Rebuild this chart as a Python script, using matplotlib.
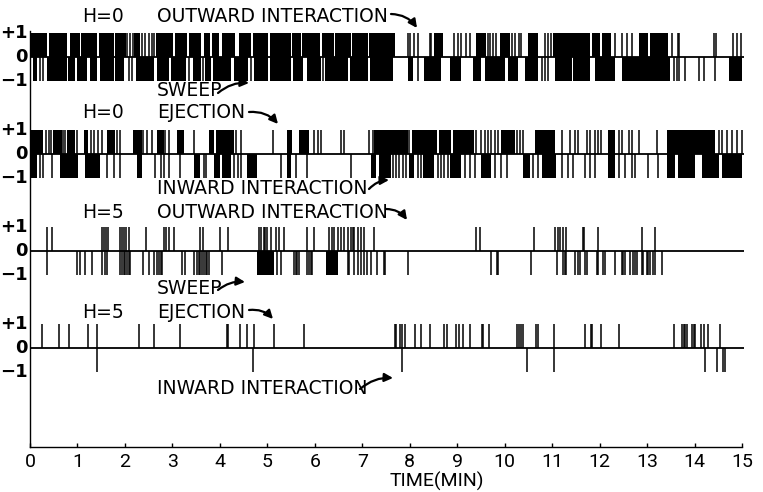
import matplotlib
matplotlib.use("Agg")
import matplotlib.pyplot as plt

# ---------------- data (time in minutes) ----------------
T1_UP_BLOCKS = [(0.0,0.36),(0.40,0.78),(0.84,1.05),(1.08,1.42),(1.46,1.77),(1.80,2.02),(2.20,2.32),
                (2.66,3.01),(3.05,3.31),(3.34,3.61),(3.66,3.80),(3.83,3.99),(4.04,4.32),(4.40,4.65),
                (4.70,5.02),(5.06,5.50),(5.52,5.71),(5.73,6.12),(6.15,6.40),(6.43,6.77),(6.79,7.12),
                (7.14,7.68),(8.52,8.70),(9.40,9.61),(9.90,10.11),(10.49,10.70),(11.02,11.80),
                (11.85,12.01),(12.06,12.25),(12.82,13.03),(13.06,13.45)]
T1_UP_LINES = [2.04,2.11,2.18,2.36,2.43,2.50,2.57,2.62,7.96,8.01,8.10,8.17,8.42,8.45,8.94,9.02,9.09,
               9.19,9.26,9.65,9.70,9.75,9.82,10.16,10.21,10.30,10.35,10.85,10.92,10.97,12.32,12.48,
               12.57,12.68,13.52,13.65,13.68,14.40,14.45,14.82,14.89,14.98]
T1_DN_BLOCKS = [(0.07,0.14),(0.35,0.77),(0.81,0.95),(0.99,1.21),(1.26,1.42),(1.47,1.76),(1.80,1.97),
                (2.24,2.61),(2.67,2.93),(2.98,3.28),(3.44,3.60),(3.69,3.81),(3.86,4.24),(4.29,4.59),
                (4.71,5.01),(5.06,5.50),(5.55,5.75),(5.83,6.14),(6.22,6.70),(6.75,7.12),(7.17,7.64),
                (7.96,8.06),(8.31,8.66),(8.84,9.09),(9.33,9.51),(9.58,10.00),(10.07,10.28),
                (10.42,10.70),(11.06,11.41),(11.44,11.80),(11.90,12.32),(12.47,13.49),(14.72,15.0)]
T1_DN_LINES = [0.21,0.28,2.08,2.15,3.35,3.64,4.65,6.18,8.17,10.78,10.85,10.92,13.56,13.63,13.68,
               13.80,14.09,14.19,14.44]

T2_UP_BLOCKS = [(0.03,0.27),(0.49,0.67),(0.77,0.95),(1.13,1.23),(1.62,1.80),(2.18,2.36),(2.68,2.82),
                (3.10,3.24),(3.77,3.87),(3.91,4.30),(5.42,5.53),(5.67,5.88),(7.25,7.96),(8.04,8.58),
                (8.61,8.86),(8.91,9.35),(9.92,10.21),(10.63,11.06),(12.18,12.32),(13.42,14.44)]
T2_UP_LINES = [0.34,0.39,0.44,0.70,0.74,0.99,1.28,1.34,1.44,1.51,1.83,1.90,2.39,2.46,2.57,2.85,2.92,
               3.45,4.33,4.44,5.11,5.99,6.06,6.13,6.55,6.62,7.15,7.22,7.99,9.40,9.51,9.58,9.65,9.72,
               9.79,9.86,10.25,10.32,10.39,11.20,11.37,11.48,11.55,11.73,11.80,11.90,11.97,12.04,
               12.40,12.47,12.61,12.68,12.82,13.21,14.51,14.58,14.68,14.79,14.90,15.0]
T2_DN_BLOCKS = [(0.03,0.15),(0.63,1.02),(1.16,1.48),(2.25,2.36),(3.45,3.59),(3.87,4.01),(4.05,4.23),
                (4.58,4.79),(5.42,5.49),(7.18,7.29),(7.36,7.60),(7.99,8.10),(8.28,8.52),(8.84,9.09),
                (9.51,9.72),(10.39,10.53),(10.78,11.09),(12.18,12.32),(13.42,13.59),(13.66,14.02),
                (14.16,14.51),(14.58,15.0)]
T2_DN_LINES = [0.21,0.27,0.46,1.62,1.76,1.90,2.64,2.75,2.82,2.92,3.17,3.66,3.70,4.30,4.38,4.45,5.28,
               5.60,5.84,6.76,7.43,7.50,7.57,7.64,7.71,7.78,7.85,7.92,8.17,8.24,8.59,8.66,8.73,8.80,
               9.16,9.26,9.37,9.79,9.93,10.04,10.60,10.70,11.20,11.34,11.44,11.69,11.80,11.90,12.40,
               12.54,12.68,12.75,13.03,13.24]

T3_UP_BLOCKS = []
T3_UP_LINES = [0.35,0.46,1.51,1.55,1.61,1.65,1.90,1.94,1.97,2.03,2.08,2.45,2.82,2.87,2.92,3.03,3.59,
               3.65,4.01,4.18,4.82,4.86,4.93,4.96,5.00,5.08,5.18,5.25,5.35,5.84,5.99,6.30,6.37,6.41,
               6.48,6.55,6.62,6.69,6.76,6.80,6.83,6.90,6.97,7.04,7.25,9.40,9.49,10.61,11.07,11.13,
               11.16,11.23,11.30,11.64,11.67,11.96,12.89,13.17]
T3_DN_BLOCKS = [(4.79,5.14),(6.23,6.48)]
T3_DN_LINES = [0.35,0.99,1.06,1.16,1.30,1.51,1.58,1.62,1.90,1.94,1.97,2.01,2.04,2.08,2.11,2.39,2.50,
               2.61,2.68,2.71,2.75,2.78,3.20,3.27,3.45,3.52,3.56,3.59,3.63,3.66,3.70,3.73,3.77,4.05,
               5.21,5.28,5.56,5.60,5.63,5.67,5.84,5.88,5.92,5.95,6.69,6.73,6.83,6.90,6.97,7.04,7.11,
               7.18,7.32,7.46,7.47,7.96,9.72,9.83,9.87,10.55,11.11,11.23,11.27,11.30,11.48,11.55,
               11.59,11.69,11.73,11.94,11.97,12.08,12.11,12.32,12.47,12.50,12.54,12.64,12.71,12.75,
               12.78,12.89,12.92,12.99,13.03,13.06,13.13,13.17,13.31]

T4_UP_BLOCKS = []
T4_UP_LINES = [0.25,0.61,0.82,1.23,1.41,2.29,2.62,3.17,4.14,4.18,4.42,4.58,4.72,5.13,5.77,7.69,7.71,
               7.80,7.83,7.90,8.11,8.23,8.42,8.72,8.79,8.98,9.03,9.12,9.26,9.52,9.54,9.68,10.27,10.30,
               10.35,10.39,10.67,10.71,11.04,11.69,11.82,11.85,12.03,12.41,13.56,13.73,13.77,13.80,
               13.84,13.94,13.98,14.02,14.14,14.19,14.28,14.54]
T4_DN_BLOCKS = []
T4_DN_LINES = [1.41,4.70,7.83,10.48,11.04,14.21,14.47,14.61,14.65]

TRACES = [
    (T1_UP_BLOCKS, T1_UP_LINES, T1_DN_BLOCKS, T1_DN_LINES),
    (T2_UP_BLOCKS, T2_UP_LINES, T2_DN_BLOCKS, T2_DN_LINES),
    (T3_UP_BLOCKS, T3_UP_LINES, T3_DN_BLOCKS, T3_DN_LINES),
    (T4_UP_BLOCKS, T4_UP_LINES, T4_DN_BLOCKS, T4_DN_LINES),
]
X_TICKS = list(range(0, 16))
X_LABEL = "TIME(MIN)"
LEVEL_LABELS = ["+1", "0", "\u22121"]

# ---------------- layout ----------------
W, H = 763, 492
BASES = [57, 154, 251, 348]     # baseline pixel rows of each trace
AMP = 24                         # pixel height of the +/-1 level
AX_LEFT, AX_RIGHT, AX_BOTTOM = 30, 742, 447
THIN_FONT = ["Roboto", "DejaVu Sans"]

fig = plt.figure(figsize=(W / 100, H / 100), dpi=100)
fig.patch.set_facecolor("white")
ax = fig.add_axes([AX_LEFT / W, (H - AX_BOTTOM) / H, (AX_RIGHT - AX_LEFT) / W, AX_BOTTOM / H])
ax.set_xlim(0, 15)
ax.set_ylim(AX_BOTTOM, 0)
ax.set_facecolor("none")

for base, (ub, ul, db, dl) in zip(BASES, TRACES):
    ax.plot([0, 15.05], [base, base], color="black", lw=1.3, clip_on=False, solid_capstyle="butt")
    ax.vlines(ul, base - AMP, base, color="black", lw=1.1, clip_on=False)
    ax.vlines(dl, base, base + AMP, color="black", lw=1.1, clip_on=False)
    if ub:
        ax.broken_barh([(a, b - a) for a, b in ub], (base - AMP, AMP), facecolors="black",
                       edgecolor="none", clip_on=False)
    if db:
        ax.broken_barh([(a, b - a) for a, b in db], (base, AMP), facecolors="black",
                       edgecolor="none", clip_on=False)

for s in ["top", "right"]:
    ax.spines[s].set_visible(False)
ax.spines["left"].set_bounds(AX_BOTTOM, BASES[0] - AMP - 2)
ax.spines["left"].set_linewidth(1.0)
ax.spines["bottom"].set_linewidth(1.0)
ax.set_yticks([])
ax.set_xticks(X_TICKS)
ax.set_xticklabels([str(t) for t in X_TICKS], family=THIN_FONT, fontweight="normal", fontsize=14)
ax.tick_params(axis="x", direction="in", length=3, width=1, pad=4)

# ---------------- annotation overlay (pixel coordinates) ----------------
ov = fig.add_axes([0, 0, 1, 1])
ov.set_xlim(0, W)
ov.set_ylim(H, 0)
ov.axis("off")

lab_kw = dict(family="DejaVu Sans", fontweight="normal", fontsize=13.5, va="center", ha="left",
              color="black")
for base in BASES:
    for lab, y in zip(LEVEL_LABELS, [base - AMP, base, base + AMP]):
        ov.text(28, y, lab, family="DejaVu Sans", fontsize=13, fontweight="bold",
                ha="right", va="center")

texts = [
    (82, 17, "H=0"), (157, 17, "OUTWARD INTERACTION"), (157, 91, "SWEEP"),
    (82, 113, "H=0"), (157, 113, "EJECTION"), (157, 188, "INWARD INTERACTION"),
    (82, 213, "H=5"), (157, 213, "OUTWARD INTERACTION"), (157, 288, "SWEEP"),
    (82, 312, "H=5"), (157, 312, "EJECTION"), (157, 388, "INWARD INTERACTION"),
]
for x, y, s in texts:
    ov.text(x, y, s, **lab_kw)

arrows = [
    ((391, 14), (417, 28), -0.25), ((218, 93), (249, 83), -0.2),
    ((249, 112), (278, 124), -0.25), ((369, 189), (389, 180), -0.2),
    ((386, 209), (407, 220), -0.25), ((218, 290), (245, 282), -0.2),
    ((249, 310), (273, 319), -0.25), ((360, 389), (393, 378), -0.2),
]
for (x0, y0), (x1, y1), rad in arrows:
    ov.annotate("", xy=(x1, y1), xytext=(x0, y0),
                arrowprops=dict(arrowstyle="-|>,head_length=0.5,head_width=0.25", lw=1.6,
                                color="black", connectionstyle=f"arc3,rad={rad}",
                                shrinkA=0, shrinkB=0))

ov.text(437, 481, X_LABEL, family=THIN_FONT, fontweight="normal", fontsize=14,
        ha="center", va="center")

fig.savefig("out.png", dpi=100, facecolor="white")
